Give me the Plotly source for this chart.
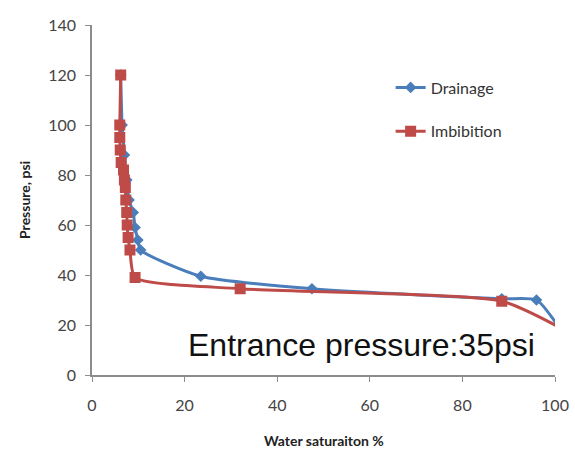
import plotly.graph_objects as go

drain_x = [6.2, 6.5, 7.0, 7.5, 8.0, 8.9, 9.3, 9.9, 10.5, 23.5, 47.5, 88.5, 96.0, 100.5]
drain_y = [120, 100, 88, 78, 70, 65, 59, 54, 50, 39.5, 34.5, 30.5, 30, 20]

imb_x = [6.2, 6.0, 6.0, 6.1, 6.3, 6.8, 7.0, 7.2, 7.3, 7.5, 7.6, 7.8, 8.2, 9.3, 32.0, 88.5, 100.5]
imb_y = [120, 100, 95, 90, 85, 82, 78, 75, 70, 65, 60, 55, 50, 39, 34.5, 29.5, 19.5]

x_ticks = [0, 20, 40, 60, 80, 100]
y_ticks = [0, 20, 40, 60, 80, 100, 120, 140]

blue = "#4A7EBB"
red = "#BE4B48"

fig = go.Figure()
fig.add_trace(go.Scatter(
    x=drain_x, y=drain_y, name="Drainage", mode="lines+markers",
    line=dict(color=blue, width=3, shape="spline", smoothing=0.6),
    marker=dict(symbol="diamond", size=9, color=blue),
    cliponaxis=False, legendgroup="a"))
fig.add_trace(go.Scatter(
    x=imb_x, y=imb_y, name="Imbibition", mode="lines+markers",
    line=dict(color=red, width=3, shape="spline", smoothing=0.6),
    marker=dict(symbol="square", size=11, color=red),
    cliponaxis=False, legendgroup="b"))

fig.add_annotation(
    x=0.583, y=12, xref="paper", yref="y",
    text="Entrance pressure:35psi", showarrow=False,
    font=dict(family="Liberation Sans", size=32, color="#111111"))

fig.add_annotation(
    x=0.5, y=-0.186, xref="paper", yref="paper", yanchor="middle",
    text="<b>Water saturaiton %</b>", showarrow=False,
    font=dict(family="Lato", size=14, color="#222222"))
fig.add_annotation(
    x=-0.147, y=0.5, xref="paper", yref="paper", xanchor="center",
    text="<b>Pressure, psi</b>", showarrow=False, textangle=-90,
    font=dict(family="Lato", size=14, color="#222222"))

axis_common = dict(
    showgrid=False, zeroline=False, showline=True, linecolor="#8C8C8C",
    linewidth=1.5, ticks="outside", ticklen=5, tickcolor="#8C8C8C",
    automargin=False,
    tickfont=dict(family="Lato", size=16, color="#444444"))

fig.update_xaxes(range=[0, 100], tickvals=x_ticks, ticklabelstandoff=10, **axis_common)
fig.update_yaxes(range=[0, 140], tickvals=y_ticks, ticklabelstandoff=6, **axis_common)

fig.update_layout(
    width=575, height=451,
    margin=dict(l=92, r=20, t=25, b=76, autoexpand=False),
    paper_bgcolor="white", plot_bgcolor="white",
    showlegend=True,
    legend=dict(x=0.645, y=0.87, xanchor="left", yanchor="top",
                font=dict(family="Lato", size=16, color="#333333"),
                tracegroupgap=20, bgcolor="rgba(0,0,0,0)"),
)

fig.write_html("out.html")
